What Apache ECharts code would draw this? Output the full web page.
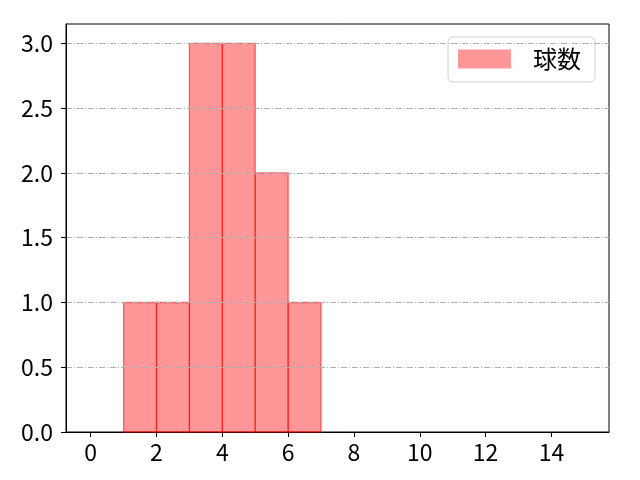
<!DOCTYPE html>
<html><head><meta charset="utf-8">
<script src="https://cdn.jsdelivr.net/npm/echarts@6/dist/echarts.min.js"></script>
<style>html,body{margin:0;padding:0;background:#fff}#c{width:640px;height:480px}</style>
</head><body><div id="c"></div>
<script>
const binStarts = [1, 2, 3, 4, 5, 6];
const binEnds = [2, 3, 4, 5, 6, 7];
const counts = [1, 1, 3, 3, 2, 1];
const xTicks = [0, 2, 4, 6, 8, 10, 12, 14];
const yTicks = [0, 0.5, 1.0, 1.5, 2.0, 2.5, 3.0];
const seriesName = '球数';

const font = '"Noto Sans CJK JP", "DejaVu Sans", sans-serif';
const data = binStarts.map((s, i) => [s, binEnds[i], counts[i]]);
const chart = echarts.init(document.getElementById('c'));
chart.setOption({
  animation: false,
  grid: { left: 66, right: 31, top: 24, bottom: 48, show: true, borderColor: '#000', borderWidth: 1, backgroundColor: 'transparent' },
  legend: {
    data: [{ name: seriesName, icon: 'rect' }],
    right: 45, top: 37, orient: 'vertical',
    itemWidth: 53, itemHeight: 19,
    padding: [10, 14, 11, 10],
    borderColor: '#d0d0d0', borderWidth: 1, borderRadius: 5,
    textStyle: { fontFamily: font, fontSize: 24, color: '#000', padding: [0, 0, 0, 17] }
  },
  xAxis: {
    type: 'value', min: -0.75, max: 15.75,
    axisLine: { show: true, onZero: false, lineStyle: { color: '#000', width: 1 } },
    axisTick: { show: true, length: 5, lineStyle: { color: '#000' }, customValues: xTicks },
    axisLabel: { fontFamily: font, fontSize: 23, color: '#000', margin: 9, customValues: xTicks, formatter: v => String(v) },
    splitLine: { show: false }
  },
  yAxis: {
    type: 'value', min: 0, max: 3.15, zlevel: 1,
    axisLine: { show: true, onZero: false, lineStyle: { color: '#000', width: 1 } },
    axisTick: { show: true, length: 5, lineStyle: { color: '#000' }, customValues: yTicks },
    axisLabel: { fontFamily: font, fontSize: 23, color: '#000', margin: 13, customValues: yTicks, formatter: v => v.toFixed(1) },
    splitLine: { show: false }
  },
  series: [{
    type: 'custom', name: seriesName, z: 2,
    itemStyle: { color: 'rgba(255,45,50,0.5)' },
    renderItem: function (params, api) {
      const p0 = api.coord([api.value(0), api.value(2)]);
      const p1 = api.coord([api.value(1), 0]);
      return {
        type: 'rect',
        shape: { x: p0[0], y: p0[1], width: p1[0] - p0[0], height: p1[1] - p0[1] },
        style: { fill: 'rgba(255,45,50,0.5)', stroke: 'rgba(255,0,0,0.55)', lineWidth: 1.3 }
      };
    },
    encode: { x: [0, 1], y: 2 },
    data: data
  }, {
    type: 'line', name: 'grid', data: [], zlevel: 1, silent: true,
    markLine: {
      symbol: 'none', silent: true, label: { show: false },
      lineStyle: { color: '#b0b0b0', width: 1, type: [6, 2, 1, 2] },
      data: yTicks.filter(v => v > 0).map(v => ({ yAxis: v }))
    }
  }]
});
</script></body></html>
